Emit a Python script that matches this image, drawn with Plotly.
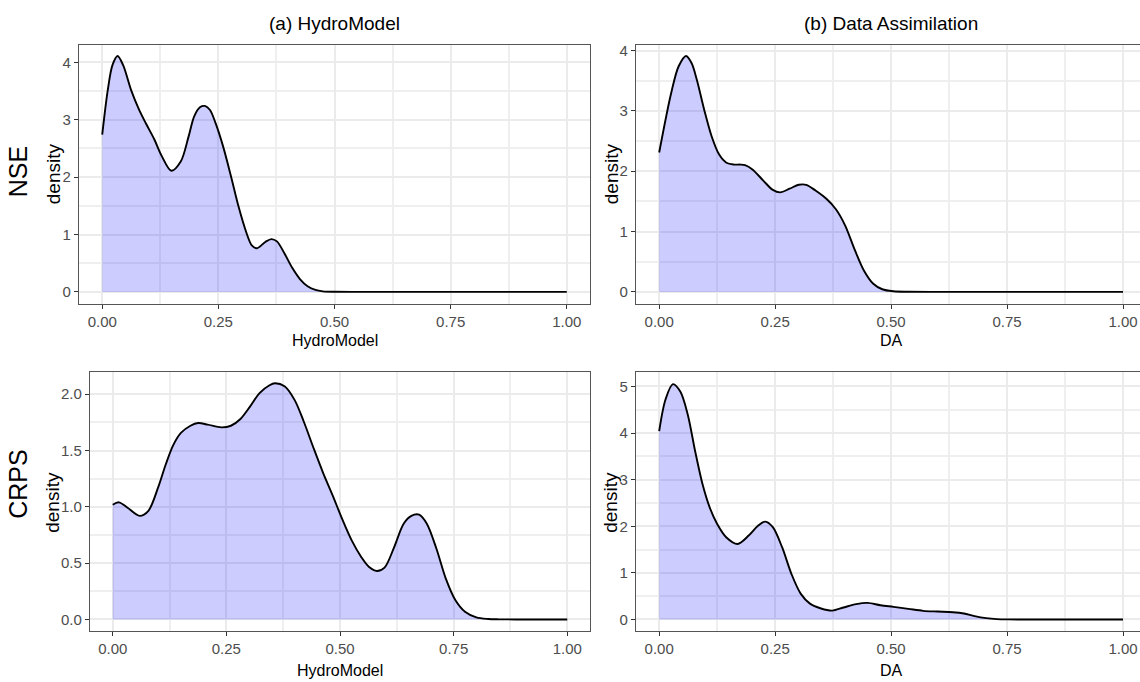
import plotly.graph_objects as go

W, H = 1140, 682

# ---- data ----
col_titles = ["(a) HydroModel", "(b) Data Assimilation"]
row_labels = ["NSE", "CRPS"]
x_titles = ["HydroModel", "DA"]
x_tickvals = [0, 0.25, 0.5, 0.75, 1.0]

nse_hm_x = [0.000, 0.012, 0.022, 0.033, 0.045, 0.062, 0.079, 0.095, 0.112, 0.128, 0.149, 0.169, 0.186,
            0.198, 0.211, 0.221, 0.232, 0.244, 0.260, 0.277, 0.293, 0.310, 0.322, 0.333, 0.351, 0.364,
            0.376, 0.393, 0.409, 0.426, 0.442, 0.459, 0.475, 0.500, 0.550, 0.600, 0.700, 0.800, 0.900, 1.000]
nse_hm_y = [2.74, 3.52, 3.95, 4.11, 3.95, 3.52, 3.18, 2.92, 2.66, 2.37, 2.11, 2.27, 2.71,
            3.06, 3.22, 3.24, 3.17, 2.94, 2.54, 2.02, 1.50, 1.04, 0.81, 0.76, 0.87, 0.92,
            0.88, 0.66, 0.42, 0.22, 0.10, 0.035, 0.01, 0.002, 0, 0, 0, 0, 0, 0]

nse_da_x = [0.000, 0.026, 0.042, 0.058, 0.070, 0.081, 0.097, 0.113, 0.129, 0.145, 0.161, 0.175, 0.185,
            0.201, 0.225, 0.245, 0.261, 0.281, 0.301, 0.317, 0.337, 0.361, 0.381, 0.401, 0.421, 0.441,
            0.461, 0.481, 0.505, 0.537, 0.600, 0.700, 0.800, 0.900, 1.000]
nse_da_y = [2.31, 3.30, 3.74, 3.91, 3.79, 3.52, 3.02, 2.58, 2.28, 2.14, 2.11, 2.11, 2.10,
            2.03, 1.84, 1.69, 1.65, 1.71, 1.775, 1.775, 1.68, 1.54, 1.37, 1.10, 0.71, 0.36,
            0.14, 0.044, 0.01, 0.002, 0, 0, 0, 0, 0]

crps_hm_x = [0.000, 0.0135, 0.032, 0.059, 0.0785, 0.0997, 0.1166, 0.1334, 0.150, 0.171, 0.188, 0.209,
             0.239, 0.260, 0.281, 0.302, 0.323, 0.345, 0.357, 0.378, 0.400, 0.420, 0.442, 0.463, 0.484,
             0.505, 0.526, 0.547, 0.564, 0.581, 0.598, 0.619, 0.640, 0.657, 0.674, 0.691, 0.712, 0.733,
             0.754, 0.775, 0.800, 0.826, 0.850, 0.900, 1.000]
crps_hm_y = [1.018, 1.04, 0.994, 0.92, 0.965, 1.17, 1.376, 1.55, 1.656, 1.72, 1.744, 1.73,
             1.706, 1.72, 1.78, 1.89, 2.01, 2.08, 2.097, 2.07, 1.95, 1.76, 1.52, 1.30, 1.10,
             0.89, 0.70, 0.553, 0.465, 0.43, 0.46, 0.64, 0.85, 0.92, 0.93, 0.85, 0.63, 0.36,
             0.17, 0.068, 0.018, 0.004, 0.001, 0, 0]

crps_da_x = [0.000, 0.0136, 0.0296, 0.0455, 0.0615, 0.0775, 0.0935, 0.109, 0.125, 0.145, 0.169, 0.193,
             0.213, 0.229, 0.245, 0.265, 0.285, 0.305, 0.325, 0.349, 0.373, 0.397, 0.425, 0.449, 0.477,
             0.505, 0.537, 0.569, 0.600, 0.633, 0.657, 0.680, 0.705, 0.728, 0.752, 0.800, 0.900, 1.000]
crps_da_y = [4.04, 4.72, 5.05, 4.89, 4.40, 3.61, 2.90, 2.40, 2.05, 1.76, 1.62, 1.80,
             2.01, 2.10, 1.98, 1.55, 0.98, 0.555, 0.34, 0.235, 0.19, 0.256, 0.33, 0.356, 0.306,
             0.27, 0.228, 0.185, 0.17, 0.156, 0.128, 0.071, 0.028, 0.007, 0.001, 0, 0, 0]

# ---- layout geometry (pixels) ----
def fx(px):
    return px / W

def fy(py):
    return 1 - py / H

panels = [
    dict(x=nse_hm_x, y=nse_hm_y, xd=(79, 590), yd=(42, 302), yr=(-0.205, 4.305), yt=[0, 1, 2, 3, 4], ym=0.5, yf="d", right=False),
    dict(x=nse_da_x, y=nse_da_y, xd=(636, 1140), yd=(42, 302), yr=(-0.195, 4.095), yt=[0, 1, 2, 3, 4], ym=0.5, yf="d", right=True),
    dict(x=crps_hm_x, y=crps_hm_y, xd=(90, 590), yd=(371, 631), yr=(-0.1045, 2.194), yt=[0, 0.5, 1.0, 1.5, 2.0], ym=0.25, yf=".1f", right=False),
    dict(x=crps_da_x, y=crps_da_y, xd=(636, 1140), yd=(371, 631), yr=(-0.2525, 5.3025), yt=[0, 1, 2, 3, 4, 5], ym=0.5, yf="d", right=True),
]

FONT = "Liberation Sans, Arial, sans-serif"
fig = go.Figure()
layout = dict(
    width=W, height=H, margin=dict(l=0, r=0, t=0, b=0),
    paper_bgcolor="white", plot_bgcolor="white", showlegend=False,
    font=dict(family=FONT, color="black"),
)

for i, p in enumerate(panels):
    n = "" if i == 0 else str(i + 1)
    fig.add_trace(go.Scatter(
        x=p["x"], y=p["y"], mode="lines", fill="tozeroy",
        fillcolor="rgba(0,0,255,0.2)",
        line=dict(color="black", width=1.9, shape="spline", smoothing=0.9),
        xaxis="x" + n, yaxis="y" + n, hoverinfo="skip",
    ))
    xr_hi = 1.05 if not p["right"] else 1 + (1140 - 1123) / 464.0
    layout["xaxis" + n] = dict(
        domain=[fx(p["xd"][0]), fx(p["xd"][1])], anchor="y" + n,
        range=[-0.05, xr_hi], tickvals=x_tickvals, tickformat=".2f",
        showgrid=True, gridcolor="#EBEBEB", gridwidth=2, zeroline=False,
        minor=dict(dtick=0.125, tick0=0, showgrid=True, gridcolor="#EFEFEF", gridwidth=1.5, ticklen=0),
        showline=True, linecolor="#555555", linewidth=1.3, mirror=True,
        ticks="outside", ticklen=4, tickcolor="#333333", tickwidth=1.2,
        tickfont=dict(family=FONT, size=15, color="#4D4D4D"),
        fixedrange=True,
    )
    layout["yaxis" + n] = dict(
        domain=[fy(p["yd"][1]), fy(p["yd"][0])], anchor="x" + n,
        range=list(p["yr"]), tickvals=p["yt"], tickformat=p["yf"],
        showgrid=True, gridcolor="#EBEBEB", gridwidth=2, zeroline=False,
        minor=dict(dtick=p["ym"], tick0=0, showgrid=True, gridcolor="#EFEFEF", gridwidth=1.5, ticklen=0),
        showline=True, linecolor="#555555", linewidth=1.3, mirror=(not p["right"]),
        ticks="outside", ticklen=4, tickcolor="#333333", tickwidth=1.2,
        tickfont=dict(family=FONT, size=15, color="#4D4D4D"),
        fixedrange=True,
    )

ann = []
ann.append(dict(text=col_titles[0], x=fx(334.5), y=fy(21), size=19, angle=0))
ann.append(dict(text=col_titles[1], x=fx(891), y=fy(21), size=19, angle=0))
ann.append(dict(text=row_labels[0], x=fx(18), y=fy(170), size=25, angle=-90))
ann.append(dict(text=row_labels[1], x=fx(18), y=fy(484), size=25, angle=-90))
ann.append(dict(text=x_titles[0], x=fx(334.5), y=fy(339), size=16, angle=0))
ann.append(dict(text=x_titles[1], x=fx(891), y=fy(339), size=16, angle=0))
ann.append(dict(text=x_titles[0], x=fx(340), y=fy(670), size=16, angle=0))
ann.append(dict(text=x_titles[1], x=fx(891), y=fy(670), size=16, angle=0))
for (xx, yy) in [(53, 172), (611, 172), (53, 502), (611, 502)]:
    ann.append(dict(text="density", x=fx(xx), y=fy(yy), size=19, angle=-90))

layout["annotations"] = [
    dict(text=a["text"], x=a["x"], y=a["y"], xref="paper", yref="paper",
         xanchor="center", yanchor="middle", showarrow=False, textangle=a["angle"],
         font=dict(family=FONT, size=a["size"], color="black"))
    for a in ann
]

fig.update_layout(**layout)
fig.write_html(
    "out.html",
    config={"displayModeBar": False},
    post_script="document.body.style.margin='0';document.body.style.overflow='hidden';",
)
